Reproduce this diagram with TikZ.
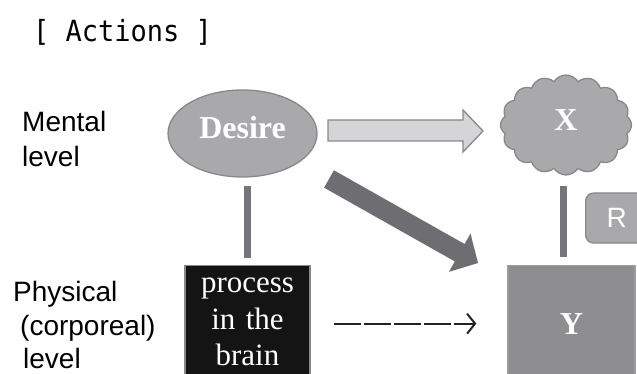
\documentclass[tikz,border=0pt]{standalone}
\usepackage{fontspec}
\setmainfont{Liberation Serif}
\setsansfont{Liberation Sans}
\setmonofont{DejaVu Sans Mono}
\usetikzlibrary{shapes.geometric,shapes.symbols,arrows.meta}
\definecolor{shapefill}{HTML}{A9A9AB}
\definecolor{shapeedge}{HTML}{88888B}
\definecolor{lightfill}{HTML}{D5D5D7}
\definecolor{darkarrow}{HTML}{6E6E72}
\definecolor{vlinec}{HTML}{76767A}
\definecolor{yfill}{HTML}{8E8E91}
\definecolor{yedge}{HTML}{9C9C9F}
\definecolor{dashc}{HTML}{222222}
\begin{document}
\begin{tikzpicture}[x=1pt,y=-1pt,
  lbl/.style={anchor=base west,inner sep=0pt,font=\sffamily\fontsize{28}{34}\selectfont,text=black},
  vline/.style={draw=vlinec,line width=7pt},
  edgeline/.style={line width=1.3pt},
  dasharrow/.style={draw=dashc,line width=2pt,dash pattern=on 27pt off 3pt,-{Straight Barb[length=8pt,width=20pt]}}
]
\useasboundingbox (0,0) rectangle (637,374);
\clip (0,0) rectangle (637,374);

% title
\node[anchor=base west,inner sep=0pt,font=\ttfamily\fontsize{27}{32}\selectfont,yscale=1.08] (title) at (33,42) {[ Actions ]};

% level labels
\node[lbl] (mental1) at (22,132) {Mental};
\node[lbl] (mental2) at (22,167) {level};
\node[lbl] (phys1) at (13,301) {Physical};
\node[lbl] (phys2) at (20,335) {(corporeal)};
\node[lbl] (phys3) at (23,368) {level};

% nodes
\node[ellipse,draw=shapeedge,fill=shapefill,edgeline,minimum width=149pt,minimum height=87pt,inner sep=0pt,
  text=white,font=\bfseries\fontsize{32}{36}\selectfont,text depth=12pt] (desire) at (242.5,133.5) {Desire};

\node[cloud,cloud puffs=16,cloud puff arc=115,aspect=1.31,draw=shapeedge,fill=shapefill,edgeline,
  minimum width=131pt,minimum height=100pt,inner sep=0pt,
  text=white,font=\bfseries\fontsize{32}{34}\selectfont,text depth=10pt] (X) at (566,125) {X};

\node[anchor=north,fill=black!92,draw=shapeedge,edgeline,text width=125pt,align=center,inner xsep=0pt,inner ysep=1.45pt,
  text=white,font=\fontsize{31}{36.5}\selectfont] (brain) at (247.5,265) {\strut process\\in the\\brain\strut};

\node[anchor=north,fill=yfill,draw=yedge,edgeline,minimum width=127pt,minimum height=116pt,inner sep=0pt,
  text=white,font=\bfseries\fontsize{32}{34}\selectfont] (Y) at (571.5,265) {Y};

\node[anchor=west,fill=shapefill,draw=shapeedge,edgeline,rounded corners=8pt,minimum width=62pt,minimum height=50pt,inner sep=0pt,
  text=white,font=\sffamily\fontsize{28}{30}\selectfont] (R) at (585,218) {R};

% light block arrow Desire -> X
\filldraw[fill=lightfill,draw=shapeedge,edgeline,line join=miter]
  (328,120) -- (463,120) -- (463,110) -- (483,131) -- (463,152) -- (463,141) -- (328,141) -- cycle;

% dark block arrow Desire -> Y
\fill[darkarrow]
  (324.1,187.7) -- (333.9,170.3) -- (464.6,244.0) -- (470.5,233.5) -- (478,263) -- (448.9,271.9) -- (454.8,261.4) -- cycle;

% vertical connectors
\draw[vline] ([yshift=7pt]brain.north) -- ([yshift=-8pt]brain.north |- desire.south);
\draw[vline] ([xshift=-3pt,yshift=8pt]X.south |- Y.north) -- ([xshift=-3pt,yshift=-10pt]X.south);

% dashed arrow
\draw[dasharrow,shorten <=23pt,shorten >=31pt] (brain.east |- Y.west) -- (Y.west);
\end{tikzpicture}
\end{document}
